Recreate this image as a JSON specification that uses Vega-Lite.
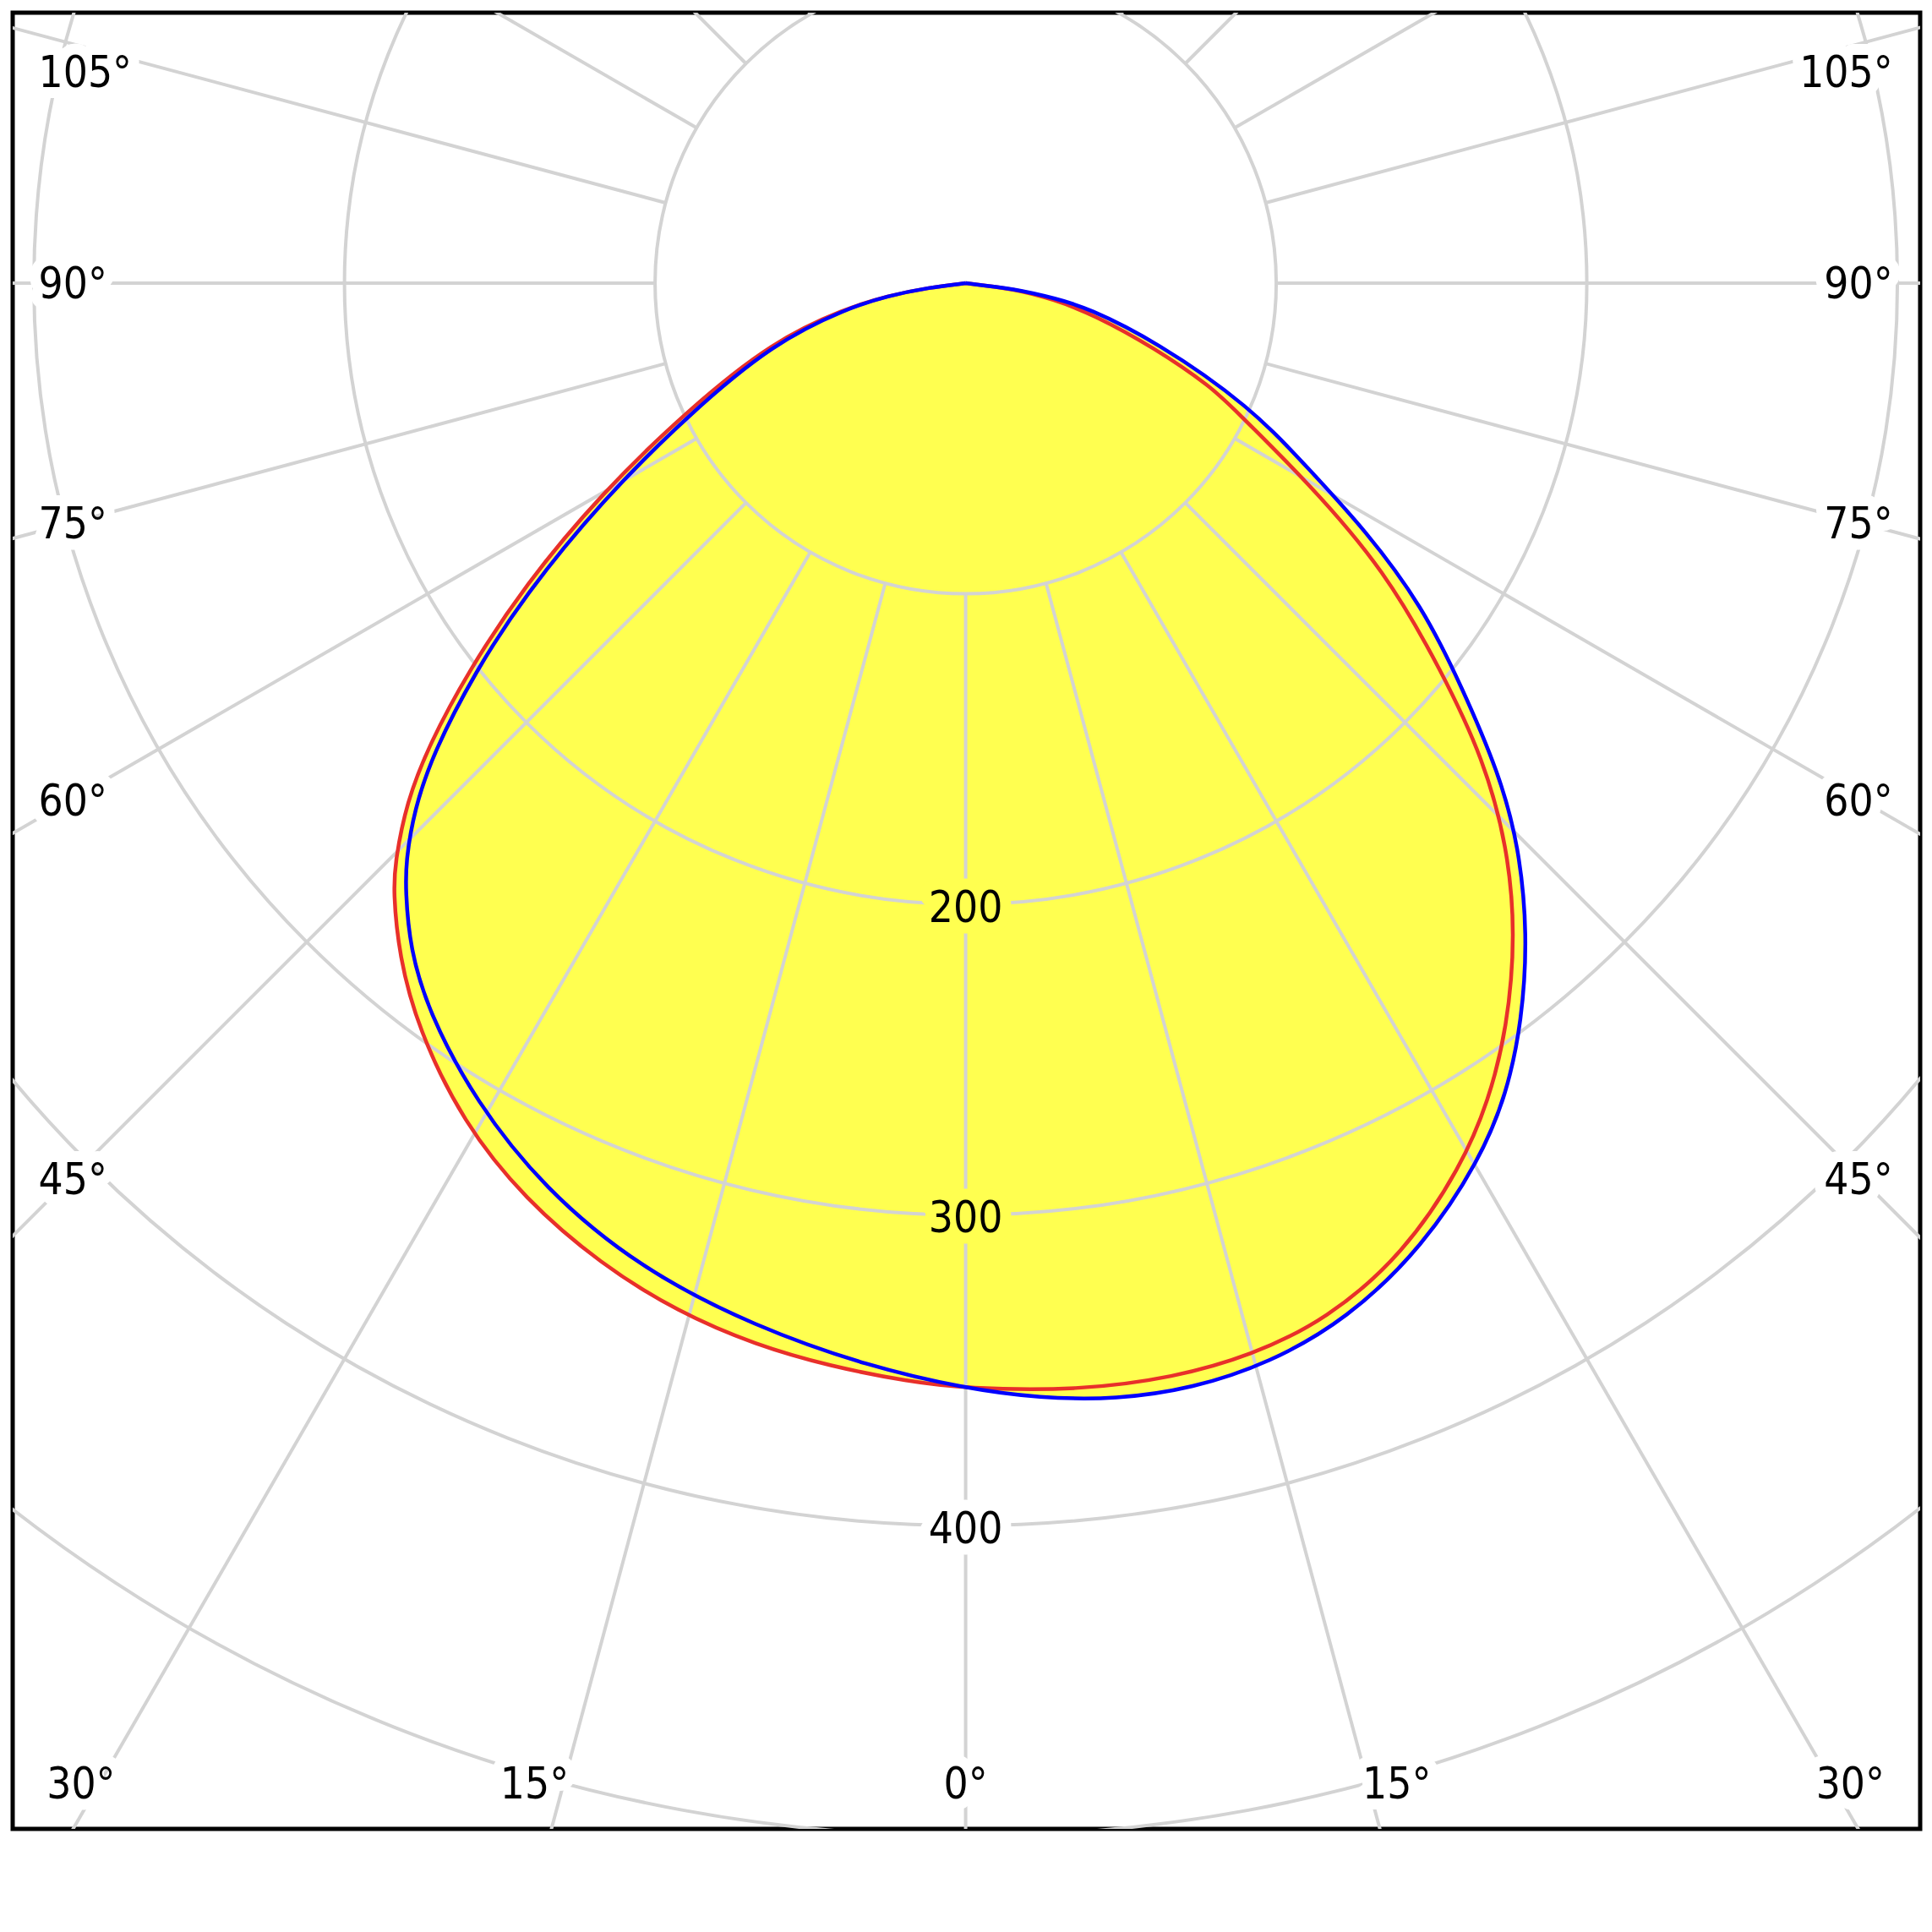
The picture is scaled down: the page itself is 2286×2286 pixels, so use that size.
{
  "$schema": "https://vega.github.io/schema/vega-lite/v6.json",
  "width": 2257,
  "height": 2149,
  "autosize": {"type": "none"},
  "padding": {"left": 15, "top": 15, "right": 14, "bottom": 122},
  "background": "white",
  "config": {"view": {"stroke": "black", "strokeWidth": 5}},
  "datasets": {
    "curves": [
      {"plane": "C0-C180", "g": -90, "I": 0},
      {"plane": "C0-C180", "g": -83.3, "I": 11.6},
      {"plane": "C0-C180", "g": -80.8, "I": 25.5},
      {"plane": "C0-C180", "g": -78.1, "I": 39.6},
      {"plane": "C0-C180", "g": -73.3, "I": 64.5},
      {"plane": "C0-C180", "g": -65.6, "I": 97.6},
      {"plane": "C0-C180", "g": -60.0, "I": 135.4},
      {"plane": "C0-C180", "g": -55.6, "I": 171.9},
      {"plane": "C0-C180", "g": -52.0, "I": 203.4},
      {"plane": "C0-C180", "g": -49.3, "I": 227.8},
      {"plane": "C0-C180", "g": -47.1, "I": 245.8},
      {"plane": "C0-C180", "g": -44.6, "I": 261.5},
      {"plane": "C0-C180", "g": -43.3, "I": 268.7},
      {"plane": "C0-C180", "g": -40.1, "I": 283.2},
      {"plane": "C0-C180", "g": -36.3, "I": 297.8},
      {"plane": "C0-C180", "g": -30.9, "I": 315.0},
      {"plane": "C0-C180", "g": -25.7, "I": 327.3},
      {"plane": "C0-C180", "g": -20.4, "I": 337.0},
      {"plane": "C0-C180", "g": -15.6, "I": 344.0},
      {"plane": "C0-C180", "g": -11.2, "I": 348.5},
      {"plane": "C0-C180", "g": -7.1, "I": 351.5},
      {"plane": "C0-C180", "g": -3.0, "I": 354.1},
      {"plane": "C0-C180", "g": 0, "I": 355.9},
      {"plane": "C0-C180", "g": 5.8, "I": 358.4},
      {"plane": "C0-C180", "g": 10.8, "I": 358.7},
      {"plane": "C0-C180", "g": 14.9, "I": 357.3},
      {"plane": "C0-C180", "g": 19.2, "I": 353.4},
      {"plane": "C0-C180", "g": 24.3, "I": 342.9},
      {"plane": "C0-C180", "g": 29.3, "I": 326.1},
      {"plane": "C0-C180", "g": 32.6, "I": 312.5},
      {"plane": "C0-C180", "g": 36.0, "I": 296.6},
      {"plane": "C0-C180", "g": 40.2, "I": 274.3},
      {"plane": "C0-C180", "g": 43.9, "I": 251.5},
      {"plane": "C0-C180", "g": 47.4, "I": 226.6},
      {"plane": "C0-C180", "g": 50.8, "I": 197.9},
      {"plane": "C0-C180", "g": 55.6, "I": 163.5},
      {"plane": "C0-C180", "g": 59.8, "I": 127.6},
      {"plane": "C0-C180", "g": 65.1, "I": 94.3},
      {"plane": "C0-C180", "g": 67.0, "I": 86.3},
      {"plane": "C0-C180", "g": 71.1, "I": 64.4},
      {"plane": "C0-C180", "g": 76.3, "I": 42.0},
      {"plane": "C0-C180", "g": 79.5, "I": 29.0},
      {"plane": "C0-C180", "g": 83.4, "I": 15.8},
      {"plane": "C0-C180", "g": 90, "I": 0},
      {"plane": "C90-C270", "g": -90, "I": 0},
      {"plane": "C90-C270", "g": -83.3, "I": 11.6},
      {"plane": "C90-C270", "g": -80.8, "I": 25.5},
      {"plane": "C90-C270", "g": -78.0, "I": 39.0},
      {"plane": "C90-C270", "g": -72.7, "I": 64.7},
      {"plane": "C90-C270", "g": -64.7, "I": 98.3},
      {"plane": "C90-C270", "g": -59.1, "I": 136.6},
      {"plane": "C90-C270", "g": -54.7, "I": 173.9},
      {"plane": "C90-C270", "g": -51.6, "I": 201.5},
      {"plane": "C90-C270", "g": -48.6, "I": 228.4},
      {"plane": "C90-C270", "g": -46.3, "I": 245.6},
      {"plane": "C90-C270", "g": -44.1, "I": 258.9},
      {"plane": "C90-C270", "g": -42.7, "I": 265.9},
      {"plane": "C90-C270", "g": -39.9, "I": 279.0},
      {"plane": "C90-C270", "g": -36.3, "I": 291.8},
      {"plane": "C90-C270", "g": -30.9, "I": 307.1},
      {"plane": "C90-C270", "g": -25.0, "I": 321.5},
      {"plane": "C90-C270", "g": -18.3, "I": 334.1},
      {"plane": "C90-C270", "g": -11.4, "I": 342.8},
      {"plane": "C90-C270", "g": -5.1, "I": 350.2},
      {"plane": "C90-C270", "g": 0, "I": 355.9},
      {"plane": "C90-C270", "g": 3.8, "I": 359.8},
      {"plane": "C90-C270", "g": 7.7, "I": 362.7},
      {"plane": "C90-C270", "g": 11.6, "I": 363.3},
      {"plane": "C90-C270", "g": 15.7, "I": 361.2},
      {"plane": "C90-C270", "g": 20.2, "I": 355.5},
      {"plane": "C90-C270", "g": 25.4, "I": 343.4},
      {"plane": "C90-C270", "g": 30.4, "I": 327.2},
      {"plane": "C90-C270", "g": 33.7, "I": 313.9},
      {"plane": "C90-C270", "g": 37.0, "I": 297.6},
      {"plane": "C90-C270", "g": 40.8, "I": 276.9},
      {"plane": "C90-C270", "g": 44.5, "I": 254.1},
      {"plane": "C90-C270", "g": 47.4, "I": 233.4},
      {"plane": "C90-C270", "g": 50.9, "I": 205.7},
      {"plane": "C90-C270", "g": 54.7, "I": 180.3},
      {"plane": "C90-C270", "g": 58.3, "I": 151.3},
      {"plane": "C90-C270", "g": 61.6, "I": 125.3},
      {"plane": "C90-C270", "g": 66.6, "I": 99.9},
      {"plane": "C90-C270", "g": 73.1, "I": 63.7},
      {"plane": "C90-C270", "g": 78.6, "I": 40.0},
      {"plane": "C90-C270", "g": 80.3, "I": 29.7},
      {"plane": "C90-C270", "g": 83.4, "I": 15.8},
      {"plane": "C90-C270", "g": 90, "I": 0}
    ],
    "circles": [{"r": 100}, {"r": 200}, {"r": 300}, {"r": 400}, {"r": 500}, {"r": 600}],
    "spokes": [
      {"a": 0}, {"a": 15}, {"a": 30}, {"a": 45}, {"a": 60}, {"a": 75},
      {"a": 90}, {"a": 105}, {"a": 120}, {"a": 135}, {"a": 150}, {"a": 165},
      {"a": 180}, {"a": 195}, {"a": 210}, {"a": 225}, {"a": 240}, {"a": 255},
      {"a": 270}, {"a": 285}, {"a": 300}, {"a": 315}, {"a": 330}, {"a": 345}
    ],
    "ringLabels": [{"v": 200, "t": "200"}, {"v": 300, "t": "300"}, {"v": 400, "t": "400"}],
    "angleLabels": [
      {"a": 105, "side": -1, "t": "105°"},
      {"a": 90, "side": -1, "t": "90°"},
      {"a": 75, "side": -1, "t": "75°"},
      {"a": 60, "side": -1, "t": "60°"},
      {"a": 45, "side": -1, "t": "45°"},
      {"a": 105, "side": 1, "t": "105°"},
      {"a": 90, "side": 1, "t": "90°"},
      {"a": 75, "side": 1, "t": "75°"},
      {"a": 60, "side": 1, "t": "60°"},
      {"a": 45, "side": 1, "t": "45°"},
      {"a": 30, "side": -1, "t": "30°"},
      {"a": 15, "side": -1, "t": "15°"},
      {"a": 0, "side": 1, "t": "0°"},
      {"a": 15, "side": 1, "t": "15°"},
      {"a": 30, "side": 1, "t": "30°"}
    ]
  },
  "layer": [
    {
      "data": {"name": "curves"},
      "transform": [
        {"calculate": "datum.I * sin(datum.g * PI / 180)", "as": "px"},
        {"calculate": "datum.I * cos(datum.g * PI / 180)", "as": "py"}
      ],
      "mark": {"type": "line", "filled": true, "fill": "#ffff50", "strokeWidth": 0, "interpolate": "basis"},
      "encoding": {
        "x": {"field": "px", "type": "quantitative", "scale": {"domain": [-306.8, 307.3], "nice": false, "zero": false}, "axis": null},
        "y": {"field": "py", "type": "quantitative", "scale": {"domain": [-87.1, 497.7], "nice": false, "zero": false, "reverse": true}, "axis": null},
        "detail": {"field": "plane"},
        "order": {"field": "g", "type": "quantitative"}
      }
    },
    {
      "data": {"name": "circles"},
      "mark": {"type": "arc", "filled": false, "color": "#d3d3d3", "strokeWidth": 4, "clip": true},
      "encoding": {
        "x": {"datum": 0, "type": "quantitative", "scale": {"domain": [-306.8, 307.3], "nice": false, "zero": false}, "axis": null},
        "y": {"datum": 0, "type": "quantitative", "scale": {"domain": [-87.1, 497.7], "nice": false, "zero": false, "reverse": true}, "axis": null},
        "radius": {"field": "r", "type": "quantitative", "stack": null, "scale": {"type": "linear", "domain": [0, 100], "range": [0, 367.5], "zero": true}}
      }
    },
    {
      "data": {"name": "spokes"},
      "transform": [
        {"calculate": "100 * sin(datum.a * PI / 180)", "as": "x1"},
        {"calculate": "100 * cos(datum.a * PI / 180)", "as": "y1"},
        {"calculate": "900 * sin(datum.a * PI / 180)", "as": "x2"},
        {"calculate": "900 * cos(datum.a * PI / 180)", "as": "y2"}
      ],
      "mark": {"type": "rule", "color": "#d3d3d3", "strokeWidth": 4, "clip": true},
      "encoding": {
        "x": {"field": "x1", "type": "quantitative", "scale": {"domain": [-306.8, 307.3], "nice": false, "zero": false}, "axis": null},
        "y": {"field": "y1", "type": "quantitative", "scale": {"domain": [-87.1, 497.7], "nice": false, "zero": false, "reverse": true}, "axis": null},
        "x2": {"field": "x2"},
        "y2": {"field": "y2"}
      }
    },
    {
      "data": {"name": "curves"},
      "transform": [
        {"filter": "datum.plane == 'C0-C180'"},
        {"calculate": "datum.I * sin(datum.g * PI / 180)", "as": "px"},
        {"calculate": "datum.I * cos(datum.g * PI / 180)", "as": "py"}
      ],
      "mark": {"type": "line", "color": "#e8302a", "strokeWidth": 4.5, "interpolate": "basis"},
      "encoding": {
        "x": {"field": "px", "type": "quantitative", "scale": {"domain": [-306.8, 307.3], "nice": false, "zero": false}, "axis": null},
        "y": {"field": "py", "type": "quantitative", "scale": {"domain": [-87.1, 497.7], "nice": false, "zero": false, "reverse": true}, "axis": null},
        "order": {"field": "g", "type": "quantitative"}
      }
    },
    {
      "data": {"name": "curves"},
      "transform": [
        {"filter": "datum.plane == 'C90-C270'"},
        {"calculate": "datum.I * sin(datum.g * PI / 180)", "as": "px"},
        {"calculate": "datum.I * cos(datum.g * PI / 180)", "as": "py"}
      ],
      "mark": {"type": "line", "color": "#0000ff", "strokeWidth": 4.5, "interpolate": "basis"},
      "encoding": {
        "x": {"field": "px", "type": "quantitative", "scale": {"domain": [-306.8, 307.3], "nice": false, "zero": false}, "axis": null},
        "y": {"field": "py", "type": "quantitative", "scale": {"domain": [-87.1, 497.7], "nice": false, "zero": false, "reverse": true}, "axis": null},
        "order": {"field": "g", "type": "quantitative"}
      }
    },
    {
      "data": {"name": "ringLabels"},
      "mark": {"type": "text", "font": "DejaVu Sans Condensed, DejaVu Sans", "fontSize": 51, "baseline": "middle", "align": "center", "dy": 6, "strokeWidth": 26, "strokeJoin": "round"},
      "encoding": {
        "x": {"datum": 0, "type": "quantitative", "scale": {"domain": [-306.8, 307.3], "nice": false, "zero": false}, "axis": null},
        "y": {"field": "v", "type": "quantitative", "scale": {"domain": [-87.1, 497.7], "nice": false, "zero": false, "reverse": true}, "axis": null},
        "text": {"field": "t"},
        "stroke": {"condition": {"test": "datum.v <= 300", "value": "#ffff50"}, "value": "white"},
        "fill": {"condition": {"test": "datum.v <= 300", "value": "#ffff50"}, "value": "white"}
      }
    },
    {
      "data": {"name": "ringLabels"},
      "mark": {"type": "text", "font": "DejaVu Sans Condensed, DejaVu Sans", "fontSize": 51, "baseline": "middle", "align": "center", "dy": 6, "color": "black"},
      "encoding": {
        "x": {"datum": 0, "type": "quantitative", "scale": {"domain": [-306.8, 307.3], "nice": false, "zero": false}, "axis": null},
        "y": {"field": "v", "type": "quantitative", "scale": {"domain": [-87.1, 497.7], "nice": false, "zero": false, "reverse": true}, "axis": null},
        "text": {"field": "t"}
      }
    },
    {
      "data": {"name": "angleLabels"},
      "transform": [
        {"calculate": "datum.a >= 45 ? datum.side * 298.5 : datum.side * min(518 * tan(datum.a * PI / 180), 284.8)", "as": "lx"},
        {"calculate": "datum.a >= 45 ? max(-68, 288.4 * cos(datum.a * PI / 180) / sin(datum.a * PI / 180)) : 483", "as": "ly"},
        {"calculate": "datum.a >= 45 ? (datum.side < 0 ? 'left' : 'right') : 'center'", "as": "al"}
      ],
      "mark": {"type": "text", "font": "DejaVu Sans Condensed, DejaVu Sans", "fontSize": 51, "baseline": "middle", "align": {"expr": "datum.al"}, "dy": 3, "stroke": "white", "fill": "white", "strokeWidth": 26, "strokeJoin": "round"},
      "encoding": {
        "x": {"field": "lx", "type": "quantitative", "scale": {"domain": [-306.8, 307.3], "nice": false, "zero": false}, "axis": null},
        "y": {"field": "ly", "type": "quantitative", "scale": {"domain": [-87.1, 497.7], "nice": false, "zero": false, "reverse": true}, "axis": null},
        "text": {"field": "t"}
      }
    },
    {
      "data": {"name": "angleLabels"},
      "transform": [
        {"calculate": "datum.a >= 45 ? datum.side * 298.5 : datum.side * min(518 * tan(datum.a * PI / 180), 284.8)", "as": "lx"},
        {"calculate": "datum.a >= 45 ? max(-68, 288.4 * cos(datum.a * PI / 180) / sin(datum.a * PI / 180)) : 483", "as": "ly"},
        {"calculate": "datum.a >= 45 ? (datum.side < 0 ? 'left' : 'right') : 'center'", "as": "al"}
      ],
      "mark": {"type": "text", "font": "DejaVu Sans Condensed, DejaVu Sans", "fontSize": 51, "baseline": "middle", "align": {"expr": "datum.al"}, "dy": 3, "color": "black"},
      "encoding": {
        "x": {"field": "lx", "type": "quantitative", "scale": {"domain": [-306.8, 307.3], "nice": false, "zero": false}, "axis": null},
        "y": {"field": "ly", "type": "quantitative", "scale": {"domain": [-87.1, 497.7], "nice": false, "zero": false, "reverse": true}, "axis": null},
        "text": {"field": "t"}
      }
    }
  ]
}
